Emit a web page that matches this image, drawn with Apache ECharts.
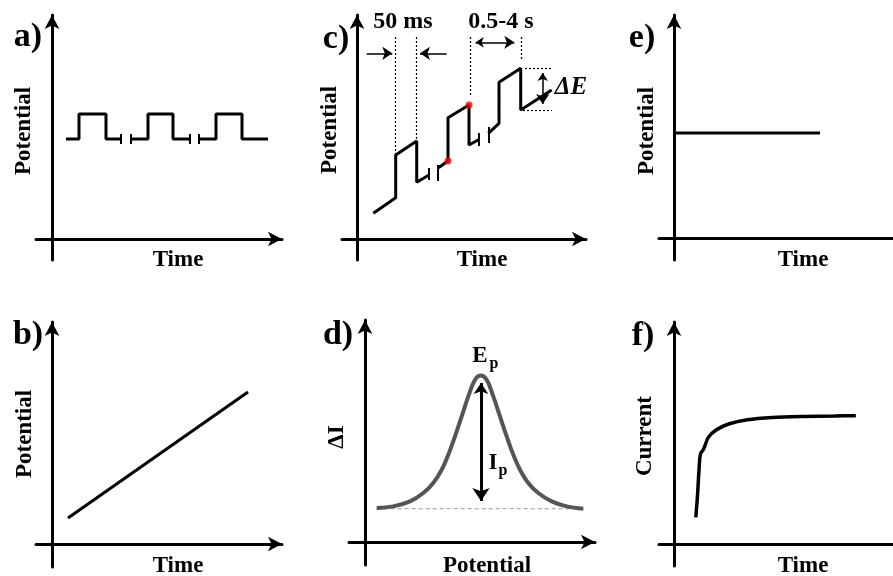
<!DOCTYPE html>
<html>
<head>
<meta charset="utf-8">
<script src="https://cdn.jsdelivr.net/npm/echarts@6/dist/echarts.min.js"></script>
<style>html,body{margin:0;padding:0;background:#fff}#c{width:893px;height:576px}</style>
</head>
<body>
<div id="c"></div>
<script>
// ---------- data (arbitrary units, origin of each panel = 0,0) ----------
// a) pulse train
const aPulse1 = [[14,100],[27,100],[27,125],[54,125],[54,100],[69,100]];
const aPulse2 = [[79,100],[96,100],[96,125],[121,125],[121,100],[138,100]];
const aPulse3 = [[147,100],[164,100],[164,125],[190,125],[190,100],[216,100]];
const aBreaks = [[69,95,105],[79,95,105],[138,95,105],[147,95,105]];
// b) linear sweep
const bRamp = [[16,26],[196,152]];
// c) differential pulse staircase
const cStep1 = [[16.3,25.7],[38.7,41.3],[38.7,84],[59.7,98],[59.7,56.7],[72,64]];
const cStep2 = [[80.7,70.7],[91,78],[91,121.3],[112,134],[112,94],[122,99.5]];
const cStep3 = [[131.3,105.7],[142,115.7],[142,156.7],[163.7,170.7],[163.7,129],[194.7,149]];
const cBreaks = [[72,59,71],[80.7,58,74],[122,93,106],[131.3,96,112]];
const cSamples = [[91,78],[112,134]];
const cGuidesV = [[38.7,202,84],[59.7,202,98],[113,202,144],[164.7,202,179]];
const cGuidesH = [[168,195,170.7],[166,195,129]];
const cArrowsOne = [[[9.7,185.7],[35.3,185.7]],[[89.7,185.7],[63,185.7]]];
const cArrowsTwo = [[[118.7,196.7],[157.3,196.7]],[[185.7,166],[185.7,135]]];
// d) differential pulse voltammogram
const dPeak = [[11.7,34],[28.3,35.6],[45,40.6],[58.3,49],[68.3,59],[76.7,72.3],[83.3,87.3],[90,105.6],[96.7,125.6],[103.3,145.6],[110,162.3],[115.7,166.6],[121.7,162.3],[128.3,145.6],[135,125.6],[141.7,105.6],[148.3,87.3],[155,72.3],[163.3,59],[173.3,49],[186.7,40.6],[201.7,35.6],[218.3,33.3]];
const dBase = [[11.7,33.3],[218.3,33.3]];
const dIp = [[116,159],[116,41]];
// e) constant potential
const eHold = [[0,105],[156,105]];
// f) chronoamperogram
const fCurrent = [[23.3,26.6],[25,46.6],[26.7,73.3],[28.3,90],[31.7,95],[36.7,106.6],[45,114],[58.3,120],[78.3,124.3],[105,126.6],[138.3,127.6],[171.7,128],[194.3,128.3]];

const panelLetters = ['a)','b)','c)','d)','e)','f)'];
const yNames = ['Potential','Potential','Potential','\u0394I','Potential','Current'];
const xNames = ['Time','Time','Time','Potential','Time','Time'];

// ---------- layout ----------
const panels = [
  {left:36, top:15, w:246, h:245, x:[-16,230], y:[-21,224], arrowX:true},
  {left:36, top:322,w:246, h:245, x:[-16,230], y:[-23,222], arrowX:true},
  {left:342,top:15, w:244, h:245, x:[-15,229], y:[-21,224], arrowX:true},
  {left:349,top:320,w:246, h:245, x:[-16,230], y:[-23,222], arrowX:true},
  {left:659,top:15, w:250, h:245, x:[-16,234], y:[-22,223], arrowX:false},
  {left:659,top:322,w:250, h:244, x:[-16,234], y:[-22,222], arrowX:false}
];
const grid=[], xAxis=[], yAxis=[];
panels.forEach((p,i)=>{
  grid.push({left:p.left, top:p.top, width:p.w, height:p.h, containLabel:false});
  const axisBase = {type:'value', axisTick:{show:false}, axisLabel:{show:false}, splitLine:{show:false}};
  xAxis.push(Object.assign({gridIndex:i, min:p.x[0], max:p.x[1],
    axisLine:{show:true, onZero:true, symbol:['none', p.arrowX?'arrow':'none'], symbolSize:[11,14], lineStyle:{color:'#000', width:3}}}, axisBase));
  yAxis.push(Object.assign({gridIndex:i, min:p.y[0], max:p.y[1],
    axisLine:{show:true, onZero:true, symbol:['none','arrow'], symbolSize:[11,14], lineStyle:{color:'#000', width:3}}}, axisBase));
});

const series=[];
function poly(i, data, opt){
  series.push(Object.assign({type:'line', xAxisIndex:i, yAxisIndex:i, data:data, showSymbol:false, symbol:'none',
    lineStyle:{color:'#000', width:3}, animation:false, silent:true}, opt||{}));
}
function segs(i, list, style, sym, symSize){
  series.push({type:'lines', coordinateSystem:'cartesian2d', xAxisIndex:i, yAxisIndex:i,
    data:list.map(c=>({coords:c})), lineStyle:Object.assign({color:'#000', width:2, opacity:1}, style),
    symbol:sym||['none','none'], symbolSize:symSize||8, animation:false, silent:true});
}
// a
[aPulse1,aPulse2,aPulse3].forEach(d=>poly(0,d));
segs(0, aBreaks.map(t=>[[t[0],t[1]],[t[0],t[2]]]), {width:2});
// b
poly(1,bRamp);
// c
[cStep1,cStep2,cStep3].forEach(d=>poly(2,d));
segs(2, cBreaks.map(t=>[[t[0],t[1]],[t[0],t[2]]]), {width:2});
segs(2, cGuidesV.map(t=>[[t[0],t[1]],[t[0],t[2]]]), {width:1.2, type:[2,2]});
segs(2, cGuidesH.map(t=>[[t[0],t[2]],[t[1],t[2]]]), {width:1.2, type:[2,2]});
segs(2, cArrowsOne, {width:1.5}, ['none','arrow'], [8,10]);
segs(2, cArrowsTwo, {width:1.5}, ['arrow','arrow'], [8,10]);
series.push({type:'scatter', xAxisIndex:2, yAxisIndex:2, data:cSamples, symbolSize:7, itemStyle:{color:'#ff0000'}, z:10, animation:false, silent:true});
// d
poly(3, dBase, {lineStyle:{color:'#999', width:1, type:[4,3]}});
poly(3, dPeak, {smooth:0.4, lineStyle:{color:'#555', width:4}});
segs(3, [dIp], {width:3}, ['arrow','arrow'], [11,13]);
// e
poly(4, eHold);
// f
poly(5, fCurrent, {smooth:0.3, lineStyle:{color:'#000', width:3.5}});

// ---------- text ----------
const F = '"Liberation Serif","Times New Roman",serif';
function txt(x,y,t,size,opt){
  return Object.assign({type:'text', x:x, y:y, silent:true, style:Object.assign({text:t, font:'bold '+size+'px '+F, fill:'#000', align:'center', verticalAlign:'middle'}, (opt&&opt.style)||{})}, opt&&opt.rot?{rotation:Math.PI/2}:{});
}
const letterPos = [[28,37],[28,335],[336,39],[338,335],[642,38],[643,336]];
const yNamePos = [[24,131],[25,434],[330,130],[337,437],[647,131],[645,436]];
const xNamePos = [[178,260],[178,566],[482,260],[487,566],[803,260],[803,566]];
const graphic = [];
panelLetters.forEach((t,i)=>graphic.push(txt(letterPos[i][0],letterPos[i][1],t,34)));
yNames.forEach((t,i)=>graphic.push(txt(yNamePos[i][0],yNamePos[i][1],t,23,{rot:true})));
xNames.forEach((t,i)=>graphic.push(txt(xNamePos[i][0],xNamePos[i][1],t,23)));
graphic.push(txt(403,22,'50 ms',24));
graphic.push(txt(501,22,'0.5-4 s',24));
graphic.push(txt(571,88,'\u0394E',24,{style:{font:'italic bold 25px '+F}}));
graphic.push(txt(480,356,'E',23));
graphic.push(txt(494,364,'p',16));
graphic.push(txt(493,463,'I',23));
graphic.push(txt(503,471,'p',16));

const chart = echarts.init(document.getElementById('c'), null, {renderer:'canvas'});
chart.setOption({animation:false, grid, xAxis, yAxis, series, graphic});
</script>
</body>
</html>
